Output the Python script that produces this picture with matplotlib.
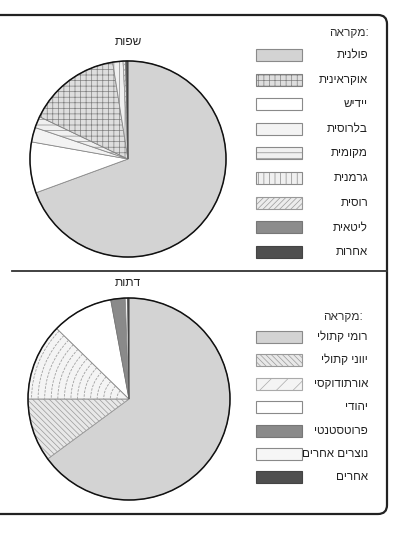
import numpy as np
import matplotlib.pyplot as plt
from matplotlib.patches import FancyBboxPatch, Rectangle, Circle, Arc

plt.rcParams['font.family'] = ['Liberation Sans', 'DejaVu Sans']
plt.rcParams['hatch.linewidth'] = 0.5


def rtl(s):
    # matplotlib has no bidi: Hebrew runs are given in visual order,
    # a trailing colon stays on the right as in the scanned chart
    if s.endswith(':'):
        return s[:-1][::-1] + ':'
    return s[::-1]


# שפות (languages), legend order
lang_title = 'שפות'
lang_labels = ['פולנית', 'אוקראינית', 'יידיש', 'בלרוסית', 'מקומית',
               'גרמנית', 'רוסית', 'ליטאית', 'אחרות']
lang_values = [69.4, 15.4, 8.4, 2.4, 1.9, 1.7, 0.4, 0.2, 0.2]
lang_order = [0, 2, 3, 4, 1, 5, 6, 7, 8]  # clockwise order in the pie

# דתות (religions)
rel_title = 'דתות'
rel_labels = ['רומי קתולי', 'יווני קתולי', 'אורתודוקסי', 'יהודי',
              'פרוטסטנטי', 'נוצרים אחרים', 'אחרים']
rel_values = [64.9, 10.1, 12.3, 9.8, 2.3, 0.4, 0.2]

legend_head = 'מקראה:'

# styles: facecolor, hatch, edgecolor
lang_styles = [
    ('#d3d3d3', None, '#8a8a8a'),
    ('#dedede', '+++', '#808080'),
    ('#ffffff', None, '#8a8a8a'),
    ('#f3f3f3', None, '#8a8a8a'),
    ('#f0f0f0', '---', '#8a8a8a'),
    ('#f0f0f0', '|||', '#8a8a8a'),
    ('#ececec', '//////', '#999999'),
    ('#8c8c8c', None, '#777777'),
    ('#4f4f4f', None, '#444444'),
]
rel_styles = [
    ('#d3d3d3', None, '#8a8a8a'),
    ('#e8e8e8', '\\\\\\\\\\\\', '#9a9a9a'),
    ('#f4f4f4', None, '#8a8a8a'),
    ('#ffffff', None, '#8a8a8a'),
    ('#8a8a8a', None, '#777777'),
    ('#f6f6f6', None, '#8a8a8a'),
    ('#4f4f4f', None, '#444444'),
]

W, H = 402, 533
fig = plt.figure(figsize=(W / 100, H / 100), dpi=100)

# frame, divider, legends (pixel coordinates)
ov = fig.add_axes([0, 0, 1, 1])
ov.set_xlim(0, W)
ov.set_ylim(H, 0)
ov.axis('off')

frame = FancyBboxPatch((-20, 15), 407, 499, boxstyle='round,pad=0,rounding_size=9',
                       fc='none', ec='#222222', lw=1.6)
ov.add_patch(frame)
ov.plot([12, 387], [271, 271], color='#333333', lw=1.3)


def pie_at(cx, cy, r, values, styles, order, orth_idx=None):
    ax = fig.add_axes([(cx - r) / W, (H - cy - r) / H, 2 * r / W, 2 * r / H])
    vals = [values[i] for i in order]
    wedges, _ = ax.pie(vals, startangle=90, counterclock=False, radius=1,
                       wedgeprops=dict(linewidth=0.6))
    for w, i in zip(wedges, order):
        fc, hatch, ec = styles[i]
        w.set_facecolor(fc)
        w.set_edgecolor(ec)
        if hatch:
            w.set_hatch(hatch)
        if i == orth_idx:
            # concentric dashed arcs inside the wedge
            for rr in np.arange(0.12, 1.0, 0.065):
                a = Arc((0, 0), 2 * rr, 2 * rr, theta1=w.theta1, theta2=w.theta2,
                        color='#a0a0a0', lw=0.6, ls=(0, (3, 1.5)))
                ax.add_patch(a)
    ax.add_patch(Circle((0, 0), 1, fc='none', ec='#111111', lw=1.1))
    ax.set_xlim(-1.01, 1.01)
    ax.set_ylim(-1.01, 1.01)
    ax.axis('off')
    return ax


pie_at(128, 159, 99, lang_values, lang_styles, lang_order)
pie_at(129, 399, 102, rel_values, rel_styles, list(range(len(rel_values))), orth_idx=2)

ov.text(128, 42, rtl(lang_title), ha='center', va='center', fontsize=8.6, color='#222222')
ov.text(128, 283, rtl(rel_title), ha='center', va='center', fontsize=8.6, color='#222222')


def legend_at(head_x, head_y, y0, step, labels, styles, x_text):
    ov.text(head_x, head_y, rtl(legend_head), ha='right', va='center',
            fontsize=8.6, color='#333333')
    for k, lab in enumerate(labels):
        y = y0 + step * k
        fc, hatch, ec = styles[k]
        ov.add_patch(Rectangle((256, y - 6), 46, 12, fc=fc, ec=ec, lw=0.8,
                               hatch=hatch))
        ov.text(x_text, y, rtl(lab), ha='right', va='center', fontsize=8.4,
                color='#222222')


legend_at(369, 33, 55, 24.6, lang_labels, lang_styles, 368)
rel_leg_styles = list(rel_styles)
rel_leg_styles[2] = ('#f4f4f4', '//', '#aaaaaa')
legend_at(363, 317, 337, 23.4, rel_labels, rel_leg_styles, 368)

fig.savefig('out.png', dpi=100)
